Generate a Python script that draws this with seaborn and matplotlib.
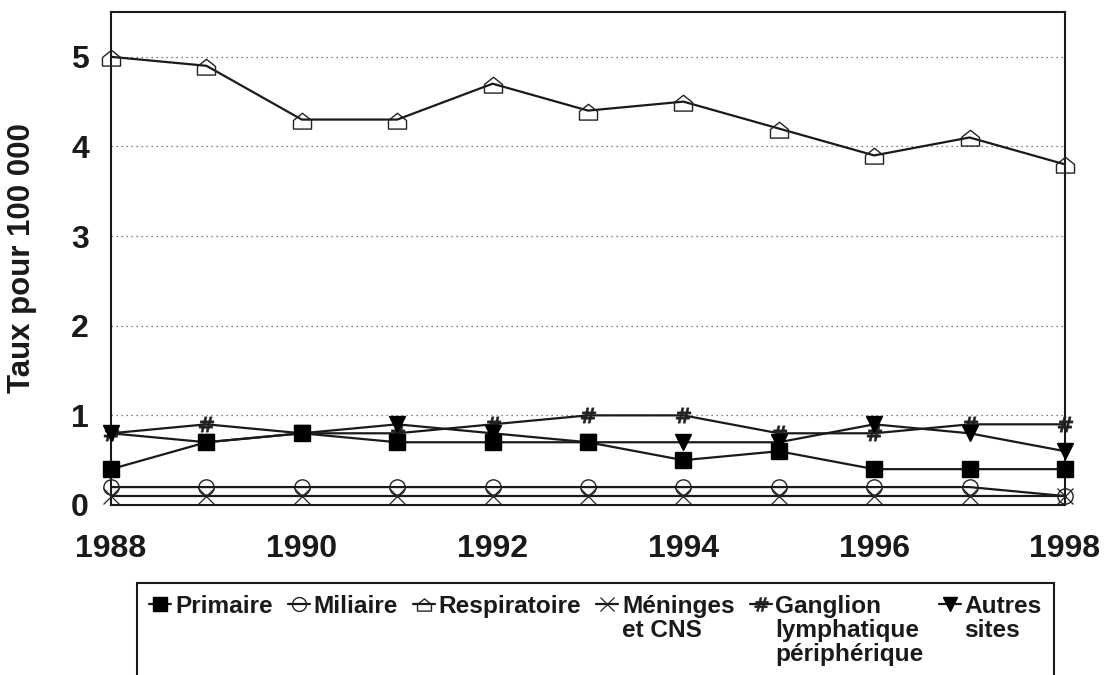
import numpy as np
import pandas as pd
import matplotlib
matplotlib.use("Agg")
import matplotlib.pyplot as plt
from matplotlib.path import Path
import seaborn as sns

# ---- data ----
years = [1988, 1989, 1990, 1991, 1992, 1993, 1994, 1995, 1996, 1997, 1998]
primaire = [0.4, 0.7, 0.8, 0.7, 0.7, 0.7, 0.5, 0.6, 0.4, 0.4, 0.4]
miliaire = [0.2, 0.2, 0.2, 0.2, 0.2, 0.2, 0.2, 0.2, 0.2, 0.2, 0.1]
respiratoire = [5.0, 4.9, 4.3, 4.3, 4.7, 4.4, 4.5, 4.2, 3.9, 4.1, 3.8]
meninges = [0.1, 0.1, 0.1, 0.1, 0.1, 0.1, 0.1, 0.1, 0.1, 0.1, 0.1]
ganglion = [0.8, 0.9, 0.8, 0.8, 0.9, 1.0, 1.0, 0.8, 0.8, 0.9, 0.9]
autres = [0.8, 0.7, 0.8, 0.9, 0.8, 0.7, 0.7, 0.7, 0.9, 0.8, 0.6]

series_names = ["Primaire", "Miliaire", "Respiratoire", "Méninges\net CNS",
                "Ganglion\nlymphatique\npériphérique", "Autres\nsites"]
series_values = [primaire, miliaire, respiratoire, meninges, ganglion, autres]
xtick_labels = ["1988", "", "1990", "", "1992", "", "1994", "", "1996", "", "1998"]
yticks = [0, 1, 2, 3, 4, 5]
ylabel = "Taux pour 100 000"

# ---- style ----
sns.set_style("white")
plt.rcParams["font.family"] = ["Liberation Sans", "DejaVu Sans"]
plt.rcParams["font.weight"] = "bold"

house = Path([(-1, -0.95), (1, -0.95), (1, 0), (0, 0.8), (-1, 0), (-1, -0.95)],
             [Path.MOVETO, Path.LINETO, Path.LINETO, Path.LINETO, Path.LINETO, Path.CLOSEPOLY])

styles = {
    "Primaire": dict(marker="s", ms=11, mfc="black", mec="black", mew=1, z=8),
    "Miliaire": dict(marker="o", ms=11, mfc="none", mec="#222222", mew=1.0, z=5),
    "Respiratoire": dict(marker=house, ms=13, mfc="none", mec="#222222", mew=1.0, z=5),
    "Méninges\net CNS": dict(marker="x", ms=11, mfc="none", mec="#222222", mew=0.9, z=4),
    "Ganglion\nlymphatique\npériphérique": dict(marker="$\\#$", ms=11, mfc="#222222", mec="#222222", mew=0.3, z=3),
    "Autres\nsites": dict(marker="v", ms=12, mfc="black", mec="black", mew=1, z=6),
}

fig = plt.figure(figsize=(11.14, 6.75), dpi=100)
ax = fig.add_axes([111 / 1114, 1 - 505 / 675, (1065 - 111) / 1114, (505 - 12) / 675])

handles = {}
for name, vals in zip(series_names, series_values):
    st = styles[name]
    df = pd.DataFrame({"year": years, "value": vals})
    sns.lineplot(data=df, x="year", y="value", ax=ax, color="#1a1a1a", lw=1.6,
                 marker=st["marker"], markersize=st["ms"], markerfacecolor=st["mfc"],
                 markeredgecolor=st["mec"], markeredgewidth=st["mew"],
                 zorder=st["z"], clip_on=False, label=name, legend=False)
    handles[name] = ax.lines[-1]

ax.set_xlim(1988, 1998)
ax.set_ylim(0, 5.5)
ax.set_xticks(years)
ax.set_xticklabels(xtick_labels)
ax.set_yticks(yticks)
ax.set_yticklabels([str(v) for v in yticks])
ax.tick_params(axis="x", direction="out", length=9.4, width=1.3, pad=11.5,
               labelsize=23, colors="#1a1a1a")
ax.tick_params(axis="y", direction="in", length=10, width=1.3, pad=16,
               labelsize=23, colors="#1a1a1a")
for lbl in ax.get_xticklabels() + ax.get_yticklabels():
    lbl.set_fontweight("bold")

for v in yticks[1:]:
    ax.axhline(v, color="#555555", lw=0.9, ls=(0, (1, 3)), zorder=1)

for s in ax.spines.values():
    s.set_visible(True)
    s.set_color("#1a1a1a")
    s.set_linewidth(1.5)

ax.set_xlabel("")
ax.set_ylabel(ylabel, fontsize=22.5, fontweight="bold", color="#1a1a1a")
ax.yaxis.set_label_coords(-0.078, 0.5)

leg = ax.legend([handles[n] for n in series_names], series_names,
                loc="upper left", bbox_to_anchor=(137 / 1114, 1 - 583 / 675),
                bbox_transform=fig.transFigure, ncol=6, frameon=True, fancybox=False,
                framealpha=1, edgecolor="#1a1a1a", borderaxespad=0, borderpad=0.5,
                handlelength=0.9, handletextpad=0.15, columnspacing=0.62,
                prop={"family": ["Liberation Sans", "DejaVu Sans"], "weight": "bold", "size": 17.6})
leg.get_frame().set_linewidth(1.5)
for t in leg.get_texts():
    t.set_linespacing(1.06)
    t.set_color("#1a1a1a")
for lh in leg.legend_handles:
    lh.set_markersize(min(lh.get_markersize(), 10))
# align each entry's handle with the first line of its label
try:
    leg._legend_handle_box.align = "top"
    for col in leg._legend_handle_box.get_children():
        col.align = "left"
        for item in col.get_children():
            item.align = "top"
except Exception:
    pass

fig.savefig("out.png", dpi=100)
